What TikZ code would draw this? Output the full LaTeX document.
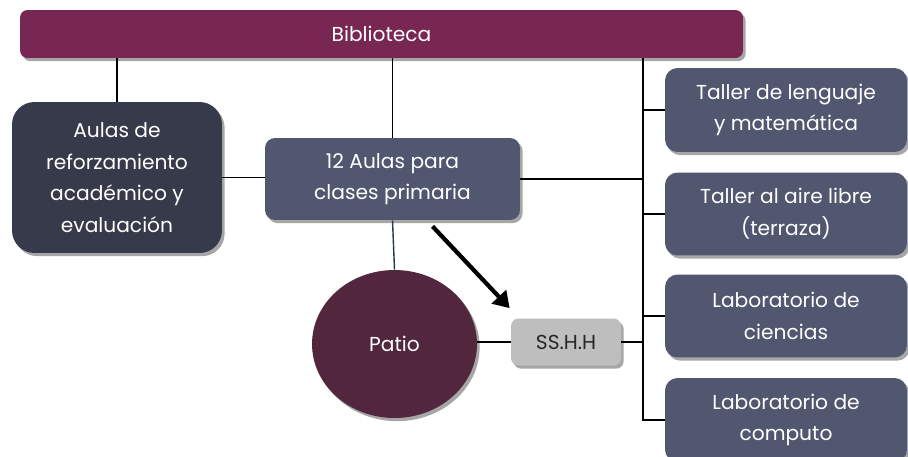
\documentclass[tikz,border=0pt]{standalone}
\usepackage{fontspec}
\setmainfont{Poppins}
\usetikzlibrary{calc,shadows,arrows.meta,shapes.geometric}
\definecolor{vino}{HTML}{772752}
\definecolor{noche}{HTML}{363A4A}
\definecolor{pizarra}{HTML}{51576E}
\definecolor{ciruela}{HTML}{52263C}
\definecolor{gris}{HTML}{BEBEBE}
\definecolor{azulado}{HTML}{1F3A55}
\tikzset{
  sombra/.style={drop shadow={shadow xshift=1.5pt,shadow yshift=-1.8pt,opacity=.35,fill=black}},
  caja/.style={sombra,fill=pizarra,text=white,rounded corners=.25cm,align=center,
    font=\fontsize{11.5}{18}\selectfont,inner sep=0pt},
  enlace/.style={black,line width=.7pt}
}
\begin{document}
\begin{tikzpicture}[x=0.02cm,y=-0.02cm]
\useasboundingbox[fill=white] (0,0) rectangle (908,456);
\node[caja,fill=vino,minimum width=14.46cm,minimum height=.96cm,rounded corners=.15cm] (bib) at (381.5,34) {Biblioteca};
\node[caja,fill=noche,minimum width=4.2cm,minimum height=3.02cm,rounded corners=.45cm] (aref) at (117,177.5) {Aulas de\\reforzamiento\\académico y\\evaluación};
\node[caja,minimum width=5.1cm,minimum height=1.64cm,rounded corners=.2cm] (aulas) at (392.5,179) {12 Aulas para\\clases primaria};
\node[caja,minimum width=4.84cm,minimum height=1.68cm] (tall) at (786,110) {Taller de lenguaje\\y matemática};
\node[caja,minimum width=4.84cm,minimum height=1.66cm] (aire) at (786,214) {Taller al aire libre\\(terraza)};
\node[caja,minimum width=4.84cm,minimum height=1.66cm] (labc) at (786,316) {Laboratorio de\\ciencias};
\node[caja,minimum width=4.84cm,minimum height=1.68cm] (labp) at (786,420) {Laboratorio de\\computo};
\node[caja,fill=gris,text=black!85,minimum width=2.2cm,minimum height=.94cm,rounded corners=.15cm] (sshh) at (566,342) {SS.H.H};
\node[caja,ellipse,fill=ciruela,minimum width=3.3cm,minimum height=2.96cm] (patio) at (394.5,344) {Patio};
% tronco de la derecha
\coordinate (tope) at (643,58); \coordinate (fondo) at (643,421);
\draw[enlace] (tope)--(fondo);
\draw[enlace] (aref.north)--(aref.north |- bib.south);
\draw[enlace] (aulas.north)--(aulas.north |- bib.south);
\draw[enlace] (aref.east)--(aref.east -| aulas.west);
\draw[enlace] (aulas.east)--(aulas.east -| tope);
\foreach \b in {tall,aire,labc,labp} \draw[enlace] (\b.west)--(\b.west -| tope);
\draw[enlace] (sshh.east)--(sshh.east -| tope);
\draw[enlace] (sshh.west)--(sshh.west -| patio.east);
\draw[azulado,line width=.8pt] (aulas.south)--(patio.north);
\draw[line width=2.4pt,-{Triangle[length=9pt,width=11pt]}] ($(aulas.south)+(40,6)$)--($(sshh.north west)+(-1,-10)$);
\end{tikzpicture}
\end{document}
